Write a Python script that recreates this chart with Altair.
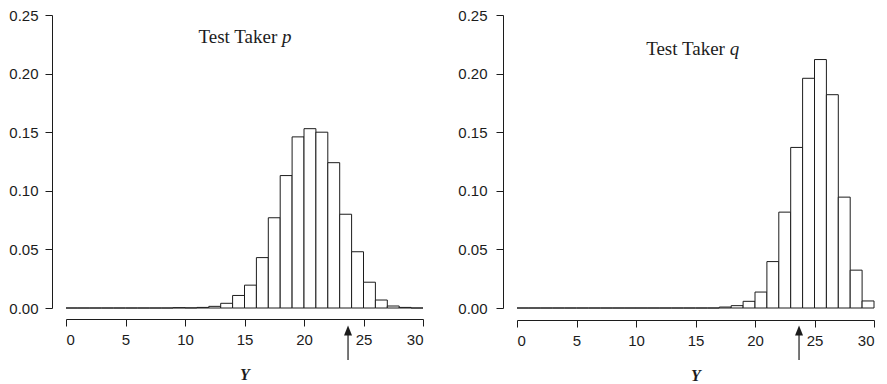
import altair as alt
import pandas as pd

# ---- data ----
bin_start = list(range(30))
prob_p = [0, 0, 0, 0, 0, 0, 0, 0, 0, 0.0003,
          0.0001, 0.0005, 0.0014, 0.004, 0.0107, 0.0195, 0.043, 0.077, 0.113, 0.146,
          0.153, 0.150, 0.124, 0.080, 0.048, 0.022, 0.0068, 0.0017, 0.0005, 0.0]
prob_q = [0, 0, 0, 0, 0, 0, 0, 0, 0, 0,
          0, 0, 0, 0, 0, 0, 0, 0.0008, 0.002, 0.0057,
          0.0136, 0.0396, 0.0818, 0.137, 0.196, 0.212, 0.182, 0.0946, 0.0323, 0.006]
observed_score = 23.7
x_ticks = [0, 5, 10, 15, 20, 25, 30]
y_ticks = [0, 0.05, 0.10, 0.15, 0.20, 0.25]
panel_title = "Test Taker"
panel_letters = ["p", "q"]
title_x = [18.15, 17.87]
title_y = [0.226, 0.216]

INK = "#1c1c1c"
W, H = 357, 293


def panel(probs, letter, tx, ty, label_pad, x_offset):
    df = pd.DataFrame({"start": bin_start,
                       "end": [b + 1 for b in bin_start],
                       "prob": probs})
    xs = alt.Scale(domain=[0, 30], nice=False, zero=False)
    ys = alt.Scale(domain=[0, 0.25], nice=False)
    bars = alt.Chart(df).mark_rect(fill="white", stroke=INK, strokeWidth=1).encode(
        x=alt.X("start:Q", scale=xs,
                axis=alt.Axis(values=x_ticks, format="d", title="Y", offset=x_offset,
                              labelPadding=6, titleFont="Liberation Serif",
                              titleFontSize=16, titleFontStyle="italic",
                              titleFontWeight="bold", titleColor=INK, titlePadding=19)),
        x2="end:Q",
        y=alt.Y("prob:Q", scale=ys,
                axis=alt.Axis(values=y_ticks, format=".2f", title=None, offset=14,
                              labelPadding=label_pad)),
        y2=alt.datum(0),
    )
    tdf = pd.DataFrame({"x": [tx], "y": [ty], "main": [panel_title], "letter": [letter]})
    t_main = alt.Chart(tdf).mark_text(align="right", baseline="alphabetic", dx=-4.75,
                                      font="Liberation Serif", fontSize=19, color=INK).encode(
        x=alt.X("x:Q", scale=xs, axis=None), y=alt.Y("y:Q", scale=ys, axis=None), text="main:N")
    t_let = alt.Chart(tdf).mark_text(align="left", baseline="alphabetic",
                                     font="Liberation Serif", fontSize=19, fontStyle="italic",
                                     color=INK).encode(
        x=alt.X("x:Q", scale=xs, axis=None), y=alt.Y("y:Q", scale=ys, axis=None), text="letter:N")
    adf = pd.DataFrame({"x": [observed_score]})
    shaft = alt.Chart(adf).mark_rule(color=INK, strokeWidth=1.2).encode(
        x=alt.X("x:Q", scale=xs, axis=None), y=alt.value(H + 24), y2=alt.value(H + 52))
    head = alt.Chart(adf).mark_point(shape="M0,-1L0.8,1L-0.8,1Z", filled=True, fill=INK,
                                     opacity=1, size=100, strokeWidth=0).encode(
        x=alt.X("x:Q", scale=xs, axis=None), y=alt.value(H + 22.6))
    return alt.layer(bars, t_main, t_let, shaft, head).resolve_axis(
        x="independent", y="independent").properties(width=W, height=H)


left = panel(prob_p, panel_letters[0], title_x[0], title_y[0], 7, 11)
right = panel(prob_q, panel_letters[1], title_x[1], title_y[1], 9, 12)

chart = alt.hconcat(left, right, spacing=33).properties(
    padding={"left": 0, "top": 0, "right": 0, "bottom": 0}
).configure_view(stroke=None).configure_axis(
    grid=False, domainColor=INK, tickColor=INK, labelColor=INK,
    labelFont="Liberation Sans", labelFontSize=15, tickSize=7,
    domainWidth=1, tickWidth=1,
)

chart.save("out.html", embed_options={"renderer": "svg", "actions": False})
